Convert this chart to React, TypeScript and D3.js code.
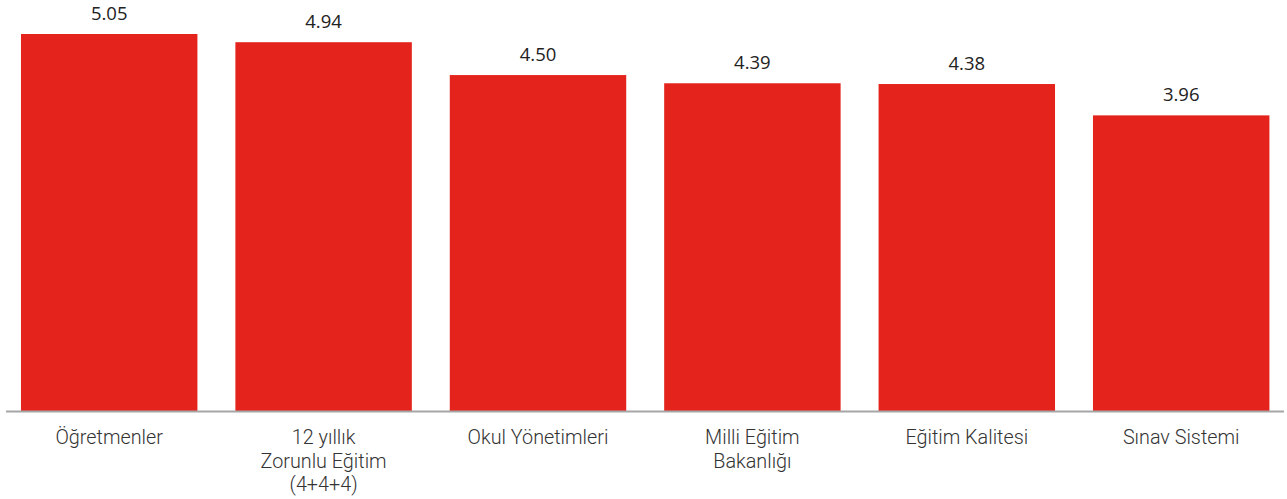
import React from "react";
import * as d3 from "d3";

const categories: string[][] = [
  ["Öğretmenler"],
  ["12 yıllık", "Zorunlu Eğitim", "(4+4+4)"],
  ["Okul Yönetimleri"],
  ["Milli Eğitim", "Bakanlığı"],
  ["Eğitim Kalitesi"],
  ["Sınav Sistemi"],
];
const values: number[] = [5.05, 4.94, 4.5, 4.39, 4.38, 3.96];

const W = 1287;
const H = 499;
const BASE = 411;

export default function App() {
  const keys = categories.map((c) => c.join(" "));
  const x = d3
    .scaleBand<string>()
    .domain(keys)
    .range([2, 1288.4])
    .paddingInner(0.177)
    .paddingOuter(0.0885);
  const y = d3.scaleLinear().domain([0, 5.5]).range([BASE, BASE - 5.5 * (377 / 5.05)]);
  const font = "'Open Sans', 'Noto Sans', sans-serif";
  const labelFont = "Roboto, 'Open Sans', sans-serif";
  return (
    <svg
      width={W}
      height={H}
      style={{ position: "absolute", left: 0, top: 0, background: "#fff" }}
    >
      {values.map((v, i) => {
        const k = keys[i];
        const bx = x(k)!;
        return (
          <g key={k}>
            <rect x={bx} y={y(v)} width={x.bandwidth()} height={BASE - y(v)} fill="#e4241c" />
            <text
              x={bx + x.bandwidth() / 2}
              y={y(v) - 14}
              textAnchor="middle"
              fontFamily={font}
              fontSize={18.5}
              fill="#222"
            >
              {d3.format(".2f")(v)}
            </text>
            {categories[i].map((line, j) => (
              <text
                key={j}
                x={bx + x.bandwidth() / 2}
                y={444 + j * 23.5}
                textAnchor="middle"
                fontFamily={labelFont}
                fontWeight={300}
                fontSize={19.8}
                fill="#333"
              >
                {line}
              </text>
            ))}
          </g>
        );
      })}
      <line x1={6} x2={1284} y1={BASE + 0.5} y2={BASE + 0.5} stroke="#a6a6a6" strokeWidth={2} />
    </svg>
  );
}
